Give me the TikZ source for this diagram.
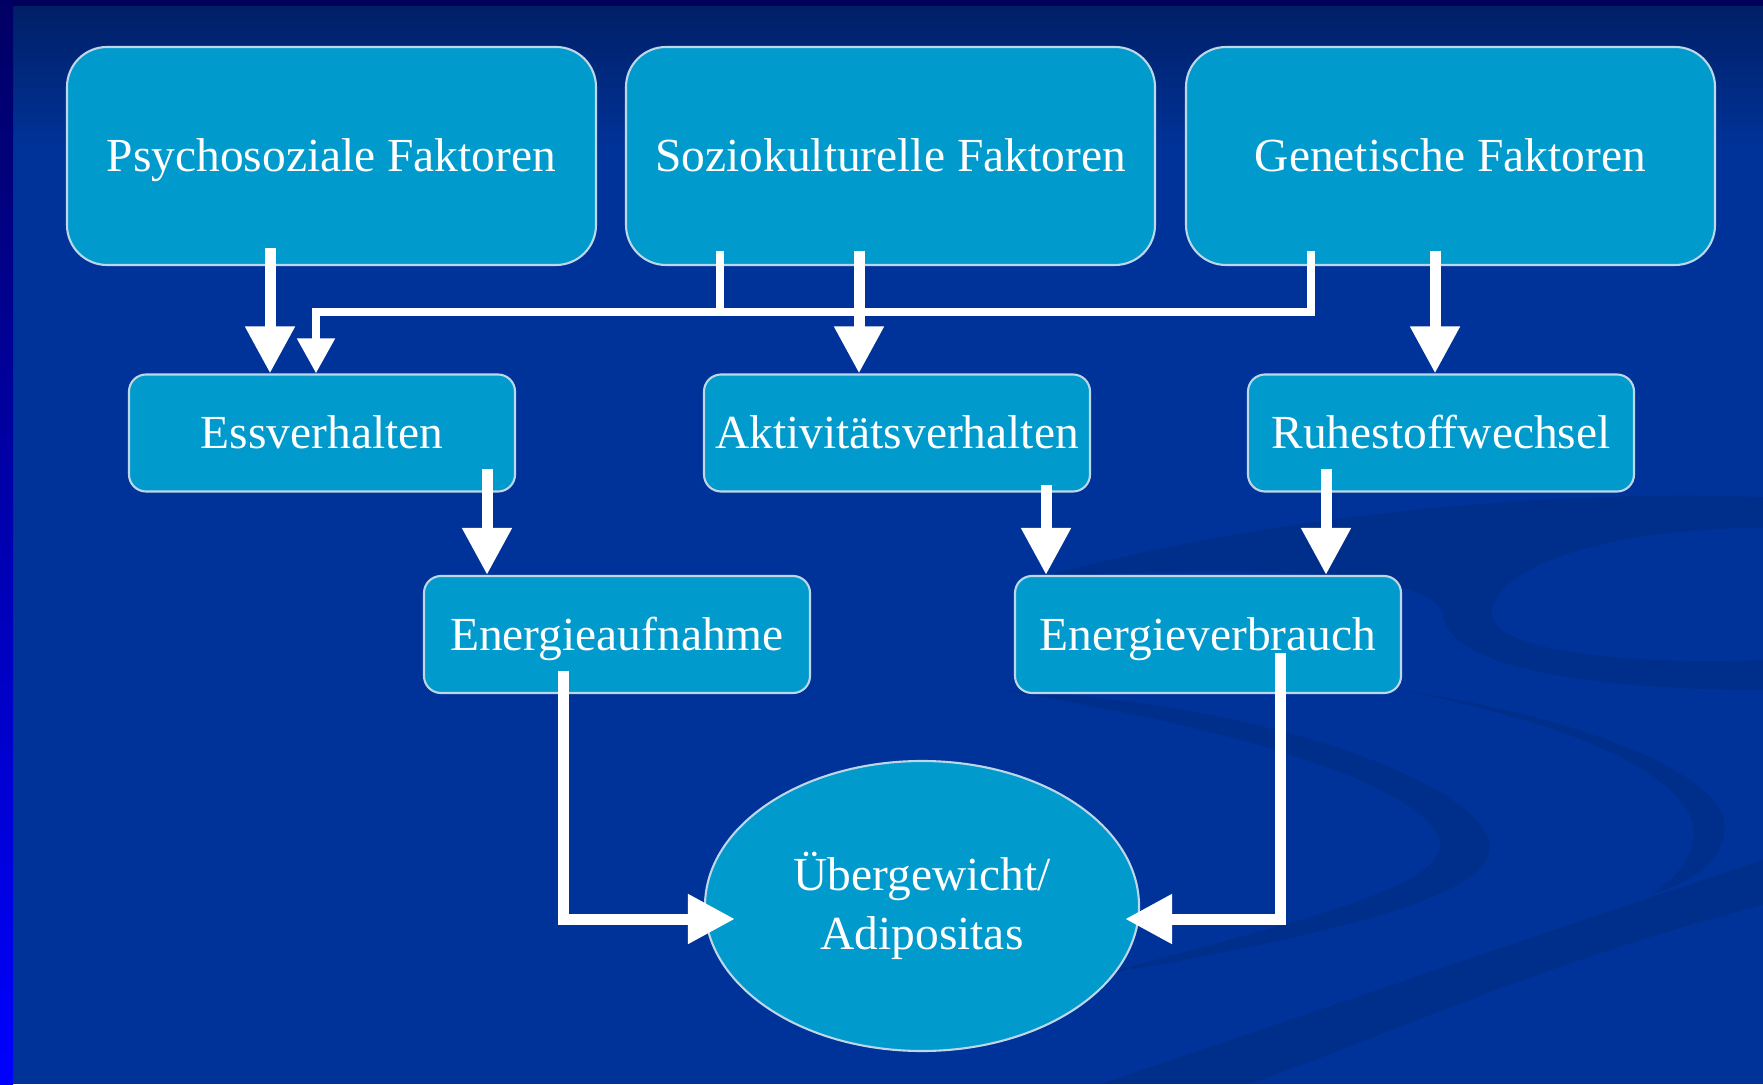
\documentclass[tikz,border=0pt]{standalone}
\usepackage{fontspec}
\setmainfont{Liberation Serif}
\usetikzlibrary{positioning,arrows.meta,calc,shapes.geometric}
\definecolor{bgmain}{RGB}{0,51,153}
\definecolor{bgtop}{RGB}{0,30,100}
\definecolor{bgnavy}{RGB}{0,0,90}
\definecolor{edgetop}{RGB}{0,0,100}
\definecolor{edgebot}{RGB}{0,0,255}
\definecolor{boxfill}{RGB}{0,154,205}
\definecolor{boxline}{RGB}{190,215,232}
\tikzset{
  factor/.style={draw=boxline, fill=boxfill, line width=0.6pt, rounded corners=4mm,
    minimum width=52.9mm, minimum height=21.8mm, inner sep=0pt, text=white,
    text height=2.3ex, text depth=0.35ex},
  behav/.style={draw=boxline, fill=boxfill, line width=0.6pt, rounded corners=1.7mm,
    minimum width=38.6mm, minimum height=11.7mm, inner sep=0pt, text=white,
    text height=2.3ex, text depth=0.35ex},
  outcome/.style={draw=boxline, fill=boxfill, line width=0.6pt, ellipse,
    minimum width=43.4mm, minimum height=29mm, inner sep=0pt, text=white, align=center},
  fatarrow/.style={draw=white, line width=1.1mm, -{Triangle[width=4.7mm,length=4.7mm]}},
  thinarrow/.style={draw=white, line width=0.8mm, -{Triangle[width=3.6mm,length=3.5mm]}},
  busline/.style={draw=white, line width=0.8mm},
  swirl/.style={fill=black, opacity=0.09}
}
\begin{document}
\begin{tikzpicture}[x=0.1mm, y=0.1mm, font=\fontsize{13.5}{16.8}\selectfont]
  % background
  \useasboundingbox (0,0) rectangle (1763,1084);
  \fill[bgmain] (0,0) rectangle (1763,1084);
  \shade[top color=bgtop, bottom color=bgmain] (0,934) rectangle (1763,1084);
  \fill[bgnavy] (0,1078) rectangle (1763,1084);
  \shade[top color=edgetop, bottom color=edgebot] (0,0) rectangle (13,1084);
  \fill[swirl] (1040,506) .. controls (1300,579) and (1600,594) .. (1763,587) -- (1763,556)
    .. controls (1600,556) and (1490,514) .. (1492,469)
    .. controls (1495,434) and (1620,419) .. (1763,424) -- (1763,394)
    .. controls (1600,394) and (1450,414) .. (1443,469)
    .. controls (1440,504) and (1300,524) .. (1040,506) -- cycle;
  \fill[swirl] (1000,394) .. controls (1250,384) and (1480,304) .. (1490,239)
    .. controls (1495,184) and (1300,144) .. (1100,109)
    .. controls (1280,159) and (1440,194) .. (1440,239)
    .. controls (1435,294) and (1250,354) .. (1000,394) -- cycle;
  \fill[swirl] (1400,394) .. controls (1600,364) and (1730,304) .. (1725,254)
    .. controls (1720,214) and (1680,199) .. (1650,189)
    .. controls (1690,214) and (1700,244) .. (1690,269)
    .. controls (1660,324) and (1550,364) .. (1400,394) -- cycle;
  \fill[swirl] (1100,0) .. controls (1350,84) and (1550,154) .. (1763,224) -- (1763,179)
    .. controls (1550,124) and (1400,54) .. (1250,0) -- cycle;

  % nodes
  \node[factor] (P) at (331.5,928) {Psychosoziale Faktoren};
  \node[factor] (S) at (890.5,928) {Soziokulturelle Faktoren};
  \node[factor] (G) at (1450.5,928) {Genetische Faktoren};
  \node[behav] (Ess) at (322,651) {Essverhalten};
  \node[behav] (Akt) at (897,651) {Aktivitätsverhalten};
  \node[behav] (Ruhe) at (1441,651) {Ruhestoffwechsel};
  \node[behav] (Eauf) at (617,449.5) {Energieaufnahme};
  \node[behav] (Ever) at (1208,449.5) {Energieverbrauch};
  \node[outcome] (Ell) at (922,178) {Übergewicht/\\Adipositas};
  \coordinate (bus) at ($(Ess.north)+(-6,61)$);

  % connectors
  \draw[fatarrow] ($(P.south)+(-61.5,18)$) -- ($(Ess.north)+(-52,0)$);
  \draw[busline] ($(S.south)+(-170.5,15)$) |- (bus);
  \draw[thinarrow] ($(G.south)+(-139.5,15)$) |- (bus) -- ($(Ess.north)+(-6,0)$);
  \draw[fatarrow] ($(S.south)+(-31.5,15)$) -- ($(Akt.north)+(-38,0)$);
  \draw[fatarrow] ($(G.south)+(-15.5,15)$) -- ($(Ruhe.north)+(-6,0)$);
  \draw[fatarrow] ($(Ess.south)+(165,24)$) -- ($(Eauf.north)+(-130,0)$);
  \draw[fatarrow] ($(Akt.south)+(149,8)$) -- ($(Ever.north)+(-162,0)$);
  \draw[fatarrow] ($(Ruhe.south)+(-115,24)$) -- ($(Ever.north)+(118,0)$);
  \draw[fatarrow] ($(Eauf.south)+(-54,23)$) |- ($(Ell.west)+(31,-13)$);
  \draw[fatarrow] ($(Ever.south)+(72,41)$) |- ($(Ell.east)+(-15,-13)$);
\end{tikzpicture}
\end{document}
